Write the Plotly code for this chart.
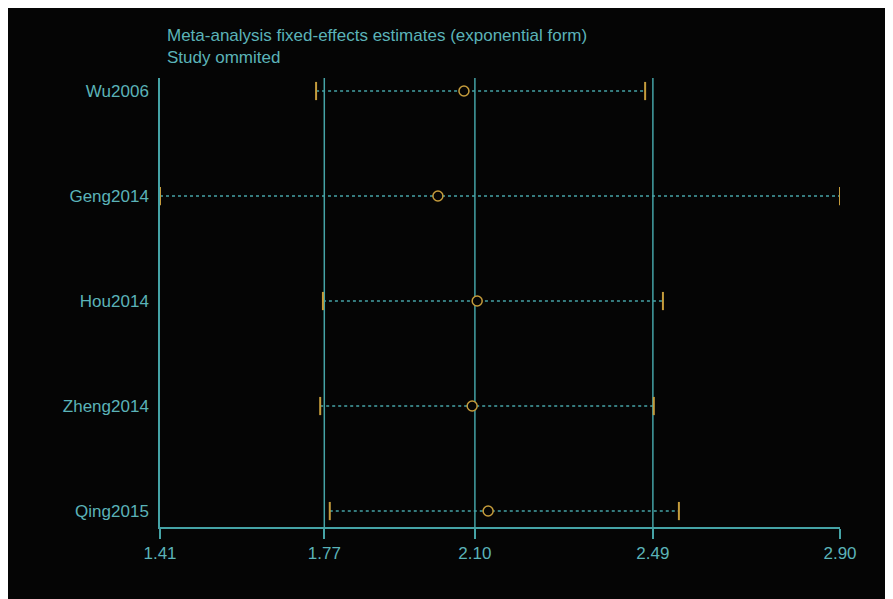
import plotly.graph_objects as go

# ---- data ----
studies = ["Wu2006", "Geng2014", "Hou2014", "Zheng2014", "Qing2015"]
estimate = [2.076, 2.019, 2.105, 2.094, 2.129]
lower = [1.752, 1.41, 1.767, 1.761, 1.782]
upper = [2.473, 2.90, 2.512, 2.492, 2.547]
ref_lines = [1.77, 2.10, 2.49]          # combined lower / estimate / upper
tick_vals = [1.41, 1.77, 2.10, 2.49, 2.90]
tick_text = ["1.41", "1.77", "2.10", "2.49", "2.90"]
rows = list(range(1, len(studies) + 1))

TEAL = "#45a3a6"
TEXT = "#5bb3b8"
ORANGE = "#c59c3c"
BG = "#050505"
FONT = "Liberation Sans, Arial, sans-serif"

fig = go.Figure()

# dotted CI lines
for lo, hi, r in zip(lower, upper, rows):
    fig.add_trace(go.Scatter(x=[lo, hi], y=[r, r], mode="lines",
                             line=dict(color=TEAL, width=1.5, dash="dot"),
                             hoverinfo="skip", showlegend=False))

# CI end caps
fig.add_trace(go.Scatter(x=lower + upper, y=rows + rows, mode="markers",
                         marker=dict(symbol="line-ns", size=13,
                                     line=dict(color=ORANGE, width=2)),
                         showlegend=False))

# estimates
fig.add_trace(go.Scatter(x=estimate, y=rows, mode="markers",
                         marker=dict(symbol="circle", size=10, color=BG,
                                     line=dict(color=ORANGE, width=1.5)),
                         showlegend=False))

shapes = []
for v in ref_lines:
    shapes.append(dict(type="line", xref="x", yref="paper", x0=v, x1=v, y0=0, y1=1,
                       line=dict(color=TEAL, width=1.5), layer="below"))

fig.update_layout(
    width=885, height=591,
    margin=dict(l=152, r=53, t=70, b=72),
    paper_bgcolor=BG, plot_bgcolor=BG,
    font=dict(family=FONT, size=17, color=TEXT),
    shapes=shapes,
    annotations=[dict(text="Meta-analysis fixed-effects estimates (exponential form)<br>Study ommited",
                      xref="paper", yref="paper", x=(165 - 160) / 680, y=(527 - 46.5) / 449,
                      xanchor="left", yanchor="middle", align="left", showarrow=False,
                      font=dict(family=FONT, size=17, color=TEXT))],
    xaxis=dict(range=[1.41, 2.90], tickvals=tick_vals, ticktext=tick_text,
               showgrid=False, zeroline=False, showline=True, linecolor=TEAL, linewidth=1.5,
               ticks="outside", ticklen=10, tickwidth=1.5, tickcolor=TEAL,
               tickfont=dict(family=FONT, size=17, color=TEXT)),
    yaxis=dict(range=[5.152, 0.876], tickvals=rows, ticktext=studies,
               showgrid=False, zeroline=False, showline=True, linecolor=TEAL, linewidth=1.5,
               ticks="", ticklabelstandoff=6,
               tickfont=dict(family=FONT, size=17, color=TEXT)),
)

fig.write_html("out.html")
